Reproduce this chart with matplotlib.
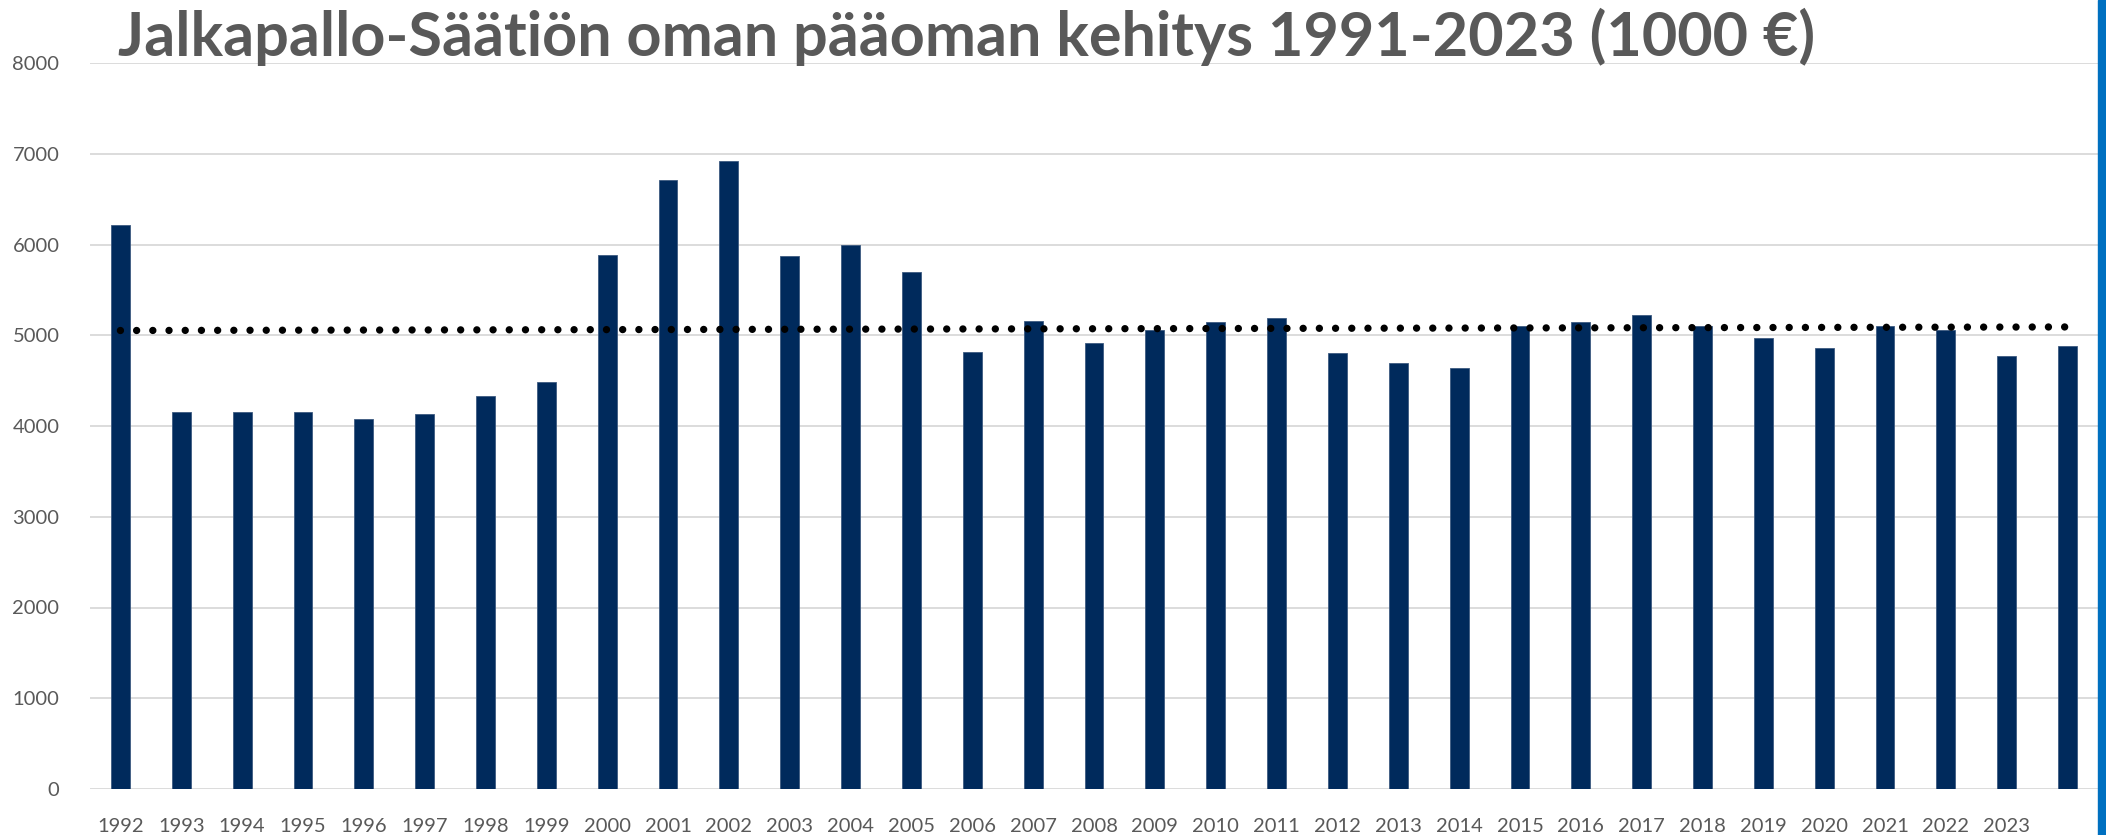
import numpy as np
import matplotlib.pyplot as plt
from matplotlib.patches import Rectangle

# =========================
# DATA
# =========================
TITLE = "Jalkapallo-Säätiön oman pääoman kehitys 1991-2023 (1000 €)"

year_labels = [str(y) for y in range(1992, 2024)] + [""]
equity = [6210, 4150, 4150, 4150, 4080, 4130, 4330, 4480, 5880, 6710,
          6920, 5870, 5990, 5700, 4810, 5160, 4910, 5060, 5150, 5190,
          4800, 4690, 4640, 5100, 5150, 5220, 5100, 4970, 4860, 5100,
          5060, 4770, 4880]
y_ticks = [0, 1000, 2000, 3000, 4000, 5000, 6000, 7000, 8000]

# =========================
# STYLE
# =========================
BAR_COLOR = "#002A5C"
TEXT_COLOR = "#595959"
GRID_COLOR = "#D9D9D9"
W, H = 2106, 835

plt.rcParams["font.family"] = ["Lato", "DejaVu Sans"]

fig = plt.figure(figsize=(W / 100, H / 100), dpi=100)
ax = fig.add_axes([90 / W, (H - 789) / H, (2098 - 90) / W, (789 - 63) / H])

x = np.arange(len(equity))
ax.bar(x, equity, width=0.31, color=BAR_COLOR, edgecolor="#3d5a80",
       linewidth=0.6, zorder=2)

# linear trendline (Excel style round dots)
k, b = np.polyfit(x, equity, 1)
ax.plot(x, k * x + b, color="black", linewidth=5.3,
        linestyle=(0, (0.001, 2.2)), dash_capstyle="round", zorder=3)

ax.set_xlim(-0.5, len(equity) - 0.5)
ax.set_ylim(0, 8000)
ax.set_yticks(y_ticks)
ax.set_yticklabels([str(t) for t in y_ticks])
ax.set_xticks(x)
ax.set_xticklabels(year_labels)

ax.grid(axis="y", color=GRID_COLOR, linewidth=1.3, zorder=0)
ax.set_axisbelow(True)
for s in ax.spines.values():
    s.set_visible(False)
ax.tick_params(axis="both", length=0, colors=TEXT_COLOR, labelsize=14.5)
ax.tick_params(axis="x", pad=21)
ax.tick_params(axis="y", pad=22)

fig.text(118 / W, 1 - 56 / H, TITLE, fontsize=44, fontweight="bold",
         color=TEXT_COLOR, ha="left", va="baseline")

# blue stripe on the right edge
fig.patches.append(Rectangle((2098 / W, 0), 8 / W, 1, transform=fig.transFigure,
                             color="#0070C0", zorder=5))

fig.savefig("out.png", dpi=100)
